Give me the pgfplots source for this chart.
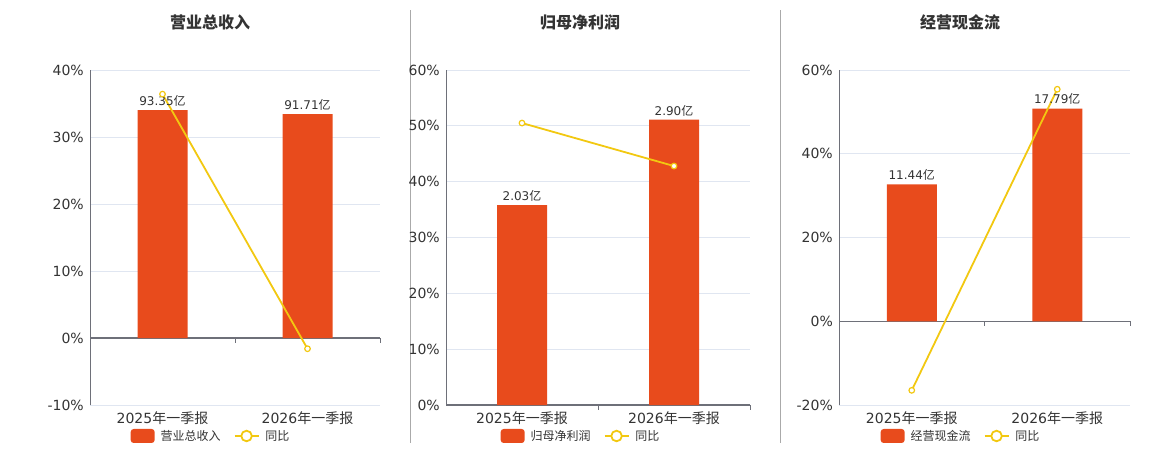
\documentclass[border=0pt]{standalone}
\usepackage{pgfplots}
\pgfplotsset{compat=1.18}
\usepackage{fontspec}
\setmainfont{DejaVu Sans}
\newfontfamily\cjk{Noto Sans CJK SC}
\definecolor{barc}{HTML}{E84B1C}
\definecolor{yel}{HTML}{F2C811}
\definecolor{axc}{HTML}{6E7079}
\definecolor{gridc}{HTML}{E0E6F1}
\definecolor{txt}{HTML}{333333}
\definecolor{sepc}{HTML}{AAAAAA}

\pgfplotsset{
  panel/.style={
    scale only axis, anchor=south west, height=335pt,
    xmin=-0.5, xmax=1.5, xtick={0,1},
    xticklabels={2025{\cjk 年一季报},2026{\cjk 年一季报}},
    axis y line*=left, axis x line*=bottom,
    x axis line style={draw=none}, y axis line style={draw=axc, line width=0.8pt},
    major tick length=0pt,
    ymajorgrids, grid style={gridc, line width=0.8pt},
    extra y ticks={0}, extra y tick labels={0\%},
    extra y tick style={grid style={axc, line width=1.5pt}},
    tick label style={font=\fontsize{14}{16}\selectfont, text=txt},
    yticklabel={\pgfmathprintnumber{\tick}\%},
    /pgf/number format/assume math mode=true,
    yticklabel style={inner sep=0pt, anchor=east, xshift=-6pt},
    xticklabel style={inner sep=0pt, anchor=north, yshift=-6pt},
    clip=false,
    legend columns=2,
    legend style={draw=none, fill=none, font=\cjk\fontsize{12}{14}\selectfont, text=txt,
      anchor=center, inner sep=0pt, nodes={inner sep=0pt},
      /tikz/every odd column/.append style={column sep=6pt},
      /tikz/every even column/.append style={column sep=13pt}},
  },
  barst/.style={ybar, bar width=50pt, fill=barc, draw=none,
    point meta=explicit symbolic,
    nodes near coords={\pgfplotspointmeta{\cjk 亿}},
    every node near coord/.append style={font=\fontsize{12}{14}\selectfont, text=txt, inner sep=0pt, anchor=south, yshift=3.5pt},
    legend image code/.code={\fill[barc, rounded corners=3pt] (0pt,-7pt) rectangle (24pt,7pt);}},
  linest/.style={yel, line width=1.8pt, mark=*, mark size=2.8pt,
    mark options={fill=white, draw=yel, line width=1.2pt},
    legend image code/.code={\draw[yel,line width=1.8pt] (0pt,0pt) -- (24pt,0pt); \draw[yel,fill=white,line width=1.8pt] (12pt,0pt) circle (5.3pt);}},
}

\begin{document}
\begin{tikzpicture}
\useasboundingbox (0pt,0pt) rectangle (1160pt,-450pt);
\draw[sepc, line width=0.8pt] (410pt,-10pt) -- (410pt,-443pt);
\draw[sepc, line width=0.8pt] (780pt,-10pt) -- (780pt,-443pt);
\node[font=\cjk\bfseries\fontsize{16}{18}\selectfont, text=txt] at (210pt,-22pt) {营业总收入};
\node[font=\cjk\bfseries\fontsize{16}{18}\selectfont, text=txt] at (580pt,-22pt) {归母净利润};
\node[font=\cjk\bfseries\fontsize{16}{18}\selectfont, text=txt] at (960pt,-22pt) {经营现金流};
\coordinate (P1) at (90pt,-405pt);
\coordinate (P2) at (446pt,-405pt);
\coordinate (P3) at (839pt,-405pt);

% Panel 1
\begin{axis}[panel, at={(P1)}, width=290pt,
  ymin=-10, ymax=40, ytick={-10,10,20,30,40},
  legend style={at={(axis description cs:0.414,-0.0925)}}]
\addplot[barst] coordinates {(0,34.0) [93.35] (1,33.4) [91.71]};
\addplot[linest] coordinates {(0,36.4) (1,-1.6)};
\legend{营业总收入,同比}
\draw[axc, line width=0.8pt] (axis cs:0.5,0) -- ++(0pt,-5pt);
\draw[axc, line width=0.8pt] (axis cs:1.5,0) -- ++(0pt,-5pt);
\end{axis}

% Panel 2
\begin{axis}[panel, at={(P2)}, width=304pt,
  ymin=0, ymax=60, ytick={10,20,30,40,50,60},
  legend style={at={(axis description cs:0.441,-0.0925)}}]
\addplot[barst] coordinates {(0,35.8) [2.03] (1,51.1) [2.90]};
\addplot[linest] coordinates {(0,50.5) (1,42.8)};
\legend{归母净利润,同比}
\draw[axc, line width=0.8pt] (axis cs:0.5,0) -- ++(0pt,-5pt);
\draw[axc, line width=0.8pt] (axis cs:1.5,0) -- ++(0pt,-5pt);
\end{axis}

% Panel 3
\begin{axis}[panel, at={(P3)}, width=291pt,
  ymin=-20, ymax=60, ytick={-20,20,40,60},
  legend style={at={(axis description cs:0.416,-0.0925)}}]
\addplot[barst] coordinates {(0,32.7) [11.44] (1,50.8) [17.79]};
\addplot[linest] coordinates {(0,-16.5) (1,55.4)};
\legend{经营现金流,同比}
\draw[axc, line width=0.8pt] (axis cs:0.5,0) -- ++(0pt,-5pt);
\draw[axc, line width=0.8pt] (axis cs:1.5,0) -- ++(0pt,-5pt);
\end{axis}
\end{tikzpicture}
\end{document}
